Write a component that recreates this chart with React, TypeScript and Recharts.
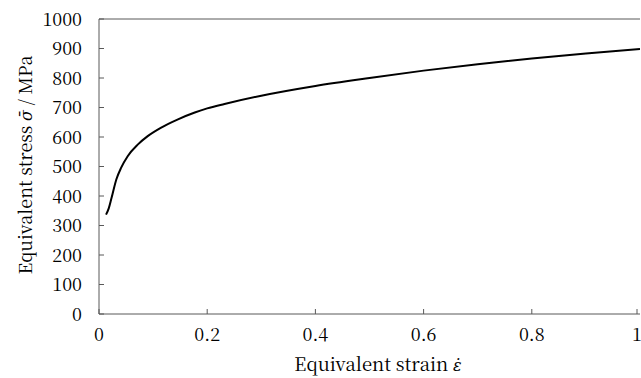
import React from 'react';
import { LineChart, Line, XAxis, YAxis, ReferenceLine, Label } from 'recharts';

const strain = [0.013, 0.018, 0.023, 0.032, 0.041, 0.053, 0.072, 0.09, 0.115, 0.146, 0.177, 0.2, 0.232, 0.3, 0.4, 0.5, 0.6, 0.7, 0.8, 0.9, 1.0];
const stress = [337, 358, 392, 456, 496, 535, 575, 603, 632, 660, 683, 697, 712, 740, 773, 800, 825, 847, 866, 883, 898];
const xTicks = [0, 0.2, 0.4, 0.6, 0.8, 1];
const xTickLabels = ['0', '0.2', '0.4', '0.6', '0.8', '1'];
const yTicks = [0, 100, 200, 300, 400, 500, 600, 700, 800, 900, 1000];

const data = strain.map((s, i) => ({ x: s, y: stress[i] }));

const FONT = "'Noto Serif CJK JP', 'Noto Serif CJK SC', 'DejaVu Serif', serif";
const SYM = "'DejaVu Serif', serif";
const AXIS = '#595959';

const YTick = (props: any) => {
  const { x, y, payload } = props;
  return (
    <g>
      <line x1={x} y1={y} x2={x + 5} y2={y} stroke={AXIS} strokeWidth={1} />
      <text x={x - 17} y={y} dy={6.5} textAnchor="end" fontFamily={FONT} fontSize={18} fill="#000">
        {payload.value}
      </text>
    </g>
  );
};

const XTick = (props: any) => {
  const { x, y, payload } = props;
  const idx = xTicks.indexOf(payload.value);
  return (
    <g>
      <line x1={x} y1={y} x2={x} y2={y - 5} stroke={AXIS} strokeWidth={1} />
      <text x={x} y={y + 27} textAnchor="middle" fontFamily={FONT} fontSize={18} fill="#000">
        {idx >= 0 ? xTickLabels[idx] : payload.value}
      </text>
    </g>
  );
};

export default function App() {
  return (
    <div style={{ position: 'absolute', left: 0, top: 0, width: 641, height: 378, background: '#fff' }}>
      <LineChart width={641} height={378} data={data} margin={{ top: 19, right: 1, bottom: 0, left: 0 }}>
        <XAxis
          dataKey="x"
          type="number"
          domain={[0, 1]}
          ticks={xTicks}
          tickSize={0}
          tickMargin={0}
          tickLine={false}
          tick={<XTick />}
          axisLine={{ stroke: AXIS, strokeWidth: 1 }}
          height={64}
          allowDataOverflow
        >
          <Label
            content={() => (
              <text x={378} y={371} textAnchor="middle" fontFamily={FONT} fontSize={18.5} fill="#000">
                Equivalent strain{' '}
                <tspan fontFamily={SYM} fontStyle="italic" fontSize={16}>{'\u03B5\u0307'}</tspan>
              </text>
            )}
          />
        </XAxis>
        <YAxis
          type="number"
          domain={[0, 1000]}
          ticks={yTicks}
          tickSize={0}
          tickMargin={0}
          tickLine={false}
          tick={<YTick />}
          axisLine={{ stroke: AXIS, strokeWidth: 1 }}
          width={99}
          interval={0}
        >
          <Label
            content={() => (
              <text
                x={32}
                y={165}
                transform="rotate(-90 32 165)"
                textAnchor="middle"
                fontFamily={FONT}
                fontSize={18}
                fill="#000"
              >
                Equivalent stress{' '}
                <tspan fontFamily={SYM} fontStyle="italic" fontSize={16}>{'\u03C3\u0304'}</tspan> / MPa
              </text>
            )}
          />
        </YAxis>
        <ReferenceLine y={1000} stroke={AXIS} strokeWidth={1} />
        <Line
          type="monotone"
          dataKey="y"
          stroke="#000"
          strokeWidth={2}
          dot={false}
          isAnimationActive={false}
        />
      </LineChart>
    </div>
  );
}
